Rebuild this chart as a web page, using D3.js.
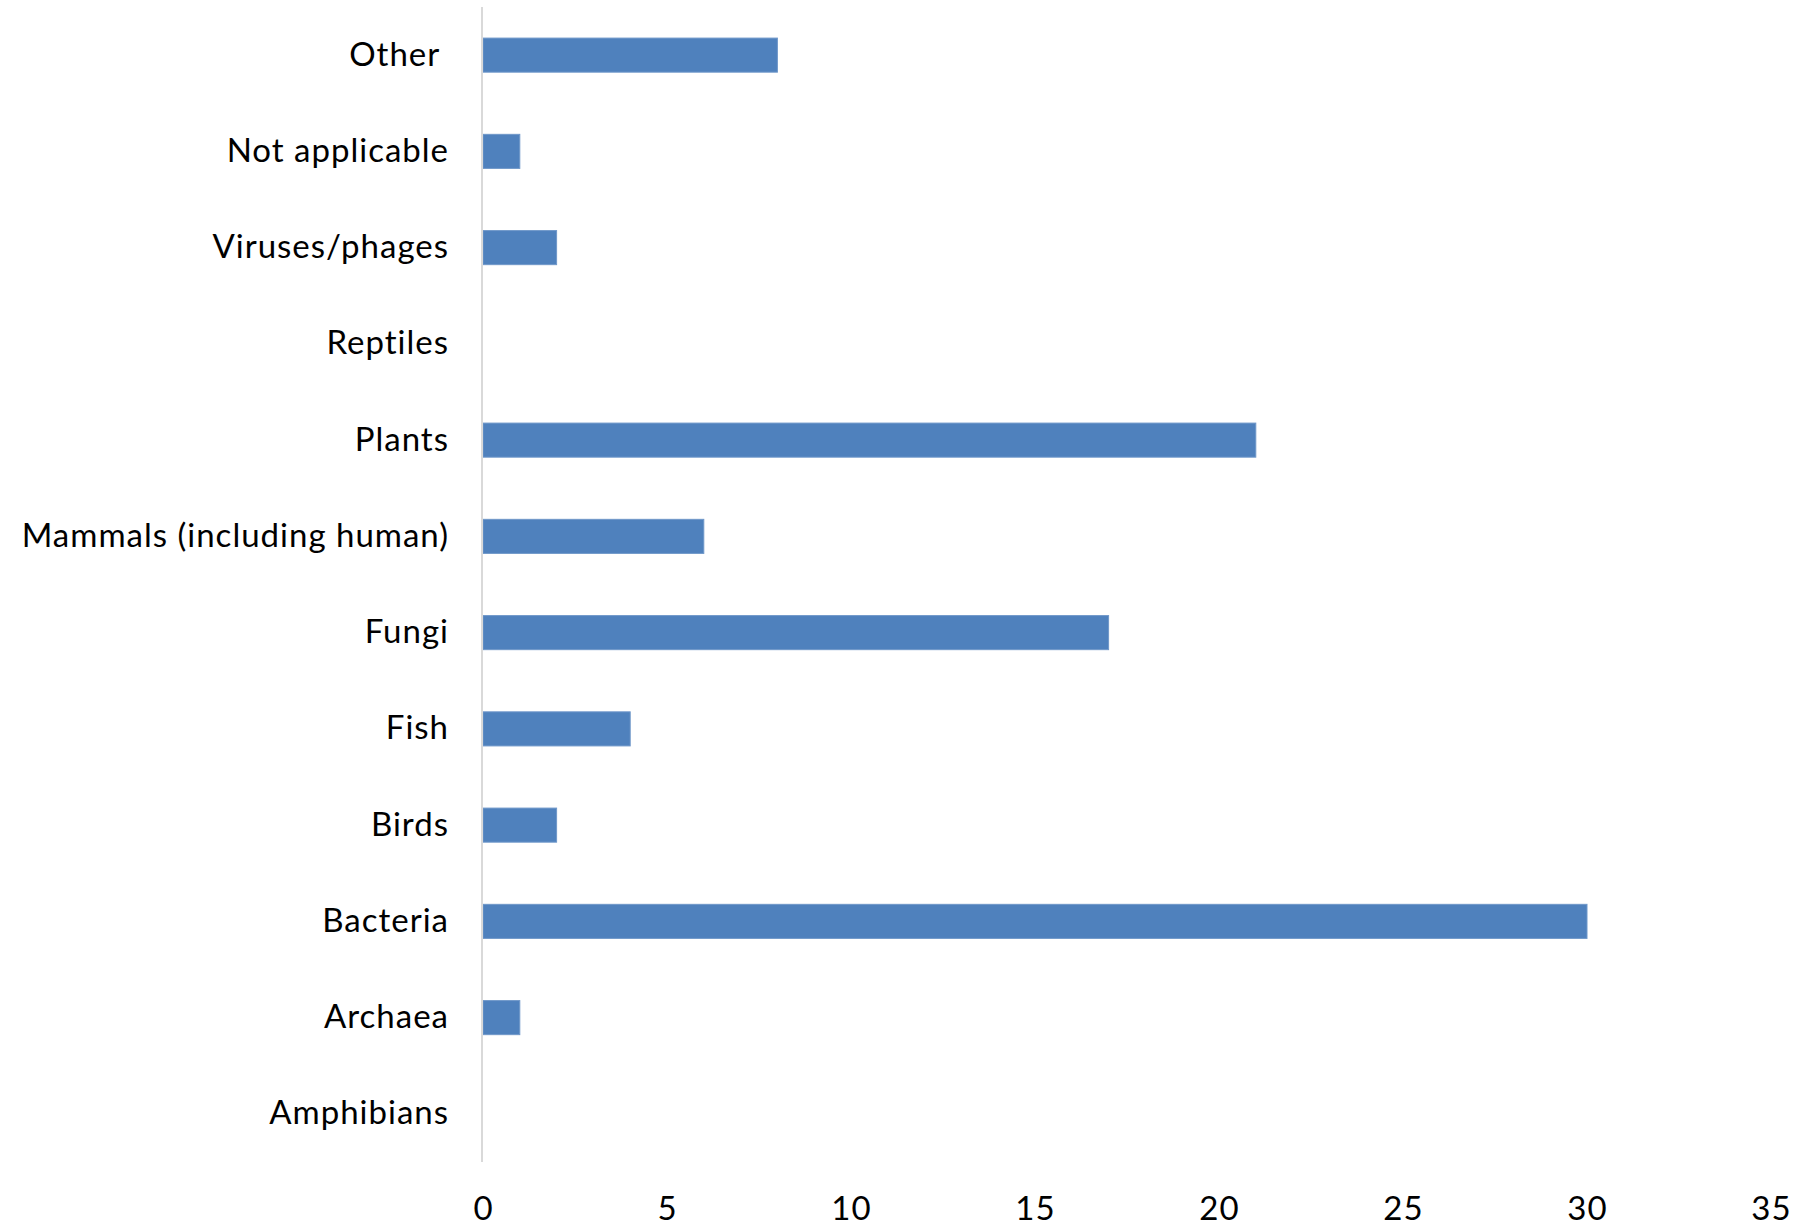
<!DOCTYPE html>
<html>
<head>
<meta charset="utf-8">
<script src="https://cdn.jsdelivr.net/npm/d3@7"></script>
<style>
  html, body { margin: 0; padding: 0; background: #ffffff; }
  svg { display: block; }
  text { font-family: Lato, "Open Sans", sans-serif; fill: #000000; }
</style>
</head>
<body>
<svg id="chart" width="1818" height="1226"></svg>
<script>
// Data (top of the list first, as drawn from top to bottom)
const categories = ["Other ", "Not applicable", "Viruses/phages", "Reptiles", "Plants",
  "Mammals (including human)", "Fungi", "Fish", "Birds", "Bacteria", "Archaea", "Amphibians"];
const values = [8, 1, 2, 0, 21, 6, 17, 4, 2, 30, 1, 0];
const xTicks = [0, 5, 10, 15, 20, 25, 30, 35];

const svg = d3.select("#chart");
const plotLeft = 483, plotRight = 1771, plotTop = 7, plotBottom = 1162;

const x = d3.scaleLinear().domain([0, 35]).range([plotLeft, plotRight]);
const y = d3.scaleBand().domain(categories).range([plotTop, plotBottom]).paddingInner(0.646).paddingOuter(0.323);

// bars
svg.append("g").selectAll("rect")
  .data(categories.map((c, i) => ({ c, v: values[i] })))
  .join("rect")
  .attr("x", x(0))
  .attr("y", d => y(d.c))
  .attr("width", d => x(d.v) - x(0))
  .attr("height", y.bandwidth())
  .attr("fill", "#4f81bd")
  .attr("stroke", d => d.v > 0 ? "#6f97c9" : "none")
  .attr("stroke-width", 1);

// category axis line
svg.append("line")
  .attr("x1", x(0) - 1).attr("x2", x(0) - 1)
  .attr("y1", plotTop).attr("y2", plotBottom)
  .attr("stroke", "#d9d9d9").attr("stroke-width", 2);

// category labels
const yAxis = d3.axisLeft(y).tickSize(0).tickPadding(34);
const gy = svg.append("g").attr("transform", `translate(${x(0)},0)`).call(yAxis);
gy.select(".domain").remove();
gy.selectAll("text")
  .style("font-family", "Lato, 'Open Sans', sans-serif")
  .style("font-size", "33px")
  .style("letter-spacing", "1px")
  .style("white-space", "pre")
  .attr("fill", "#000");

// value axis labels
const xAxis = d3.axisBottom(x).tickValues(xTicks).tickSize(0).tickPadding(0).tickFormat(d3.format("d"));
const gx = svg.append("g").attr("transform", `translate(0,1196)`).call(xAxis);
gx.select(".domain").remove();
gx.selectAll("text")
  .attr("dy", "0.35em").attr("y", 12)
  .style("font-family", "Lato, 'Open Sans', sans-serif")
  .style("font-size", "33px")
  .style("letter-spacing", "1px")
  .attr("fill", "#000");
</script>
</body>
</html>
